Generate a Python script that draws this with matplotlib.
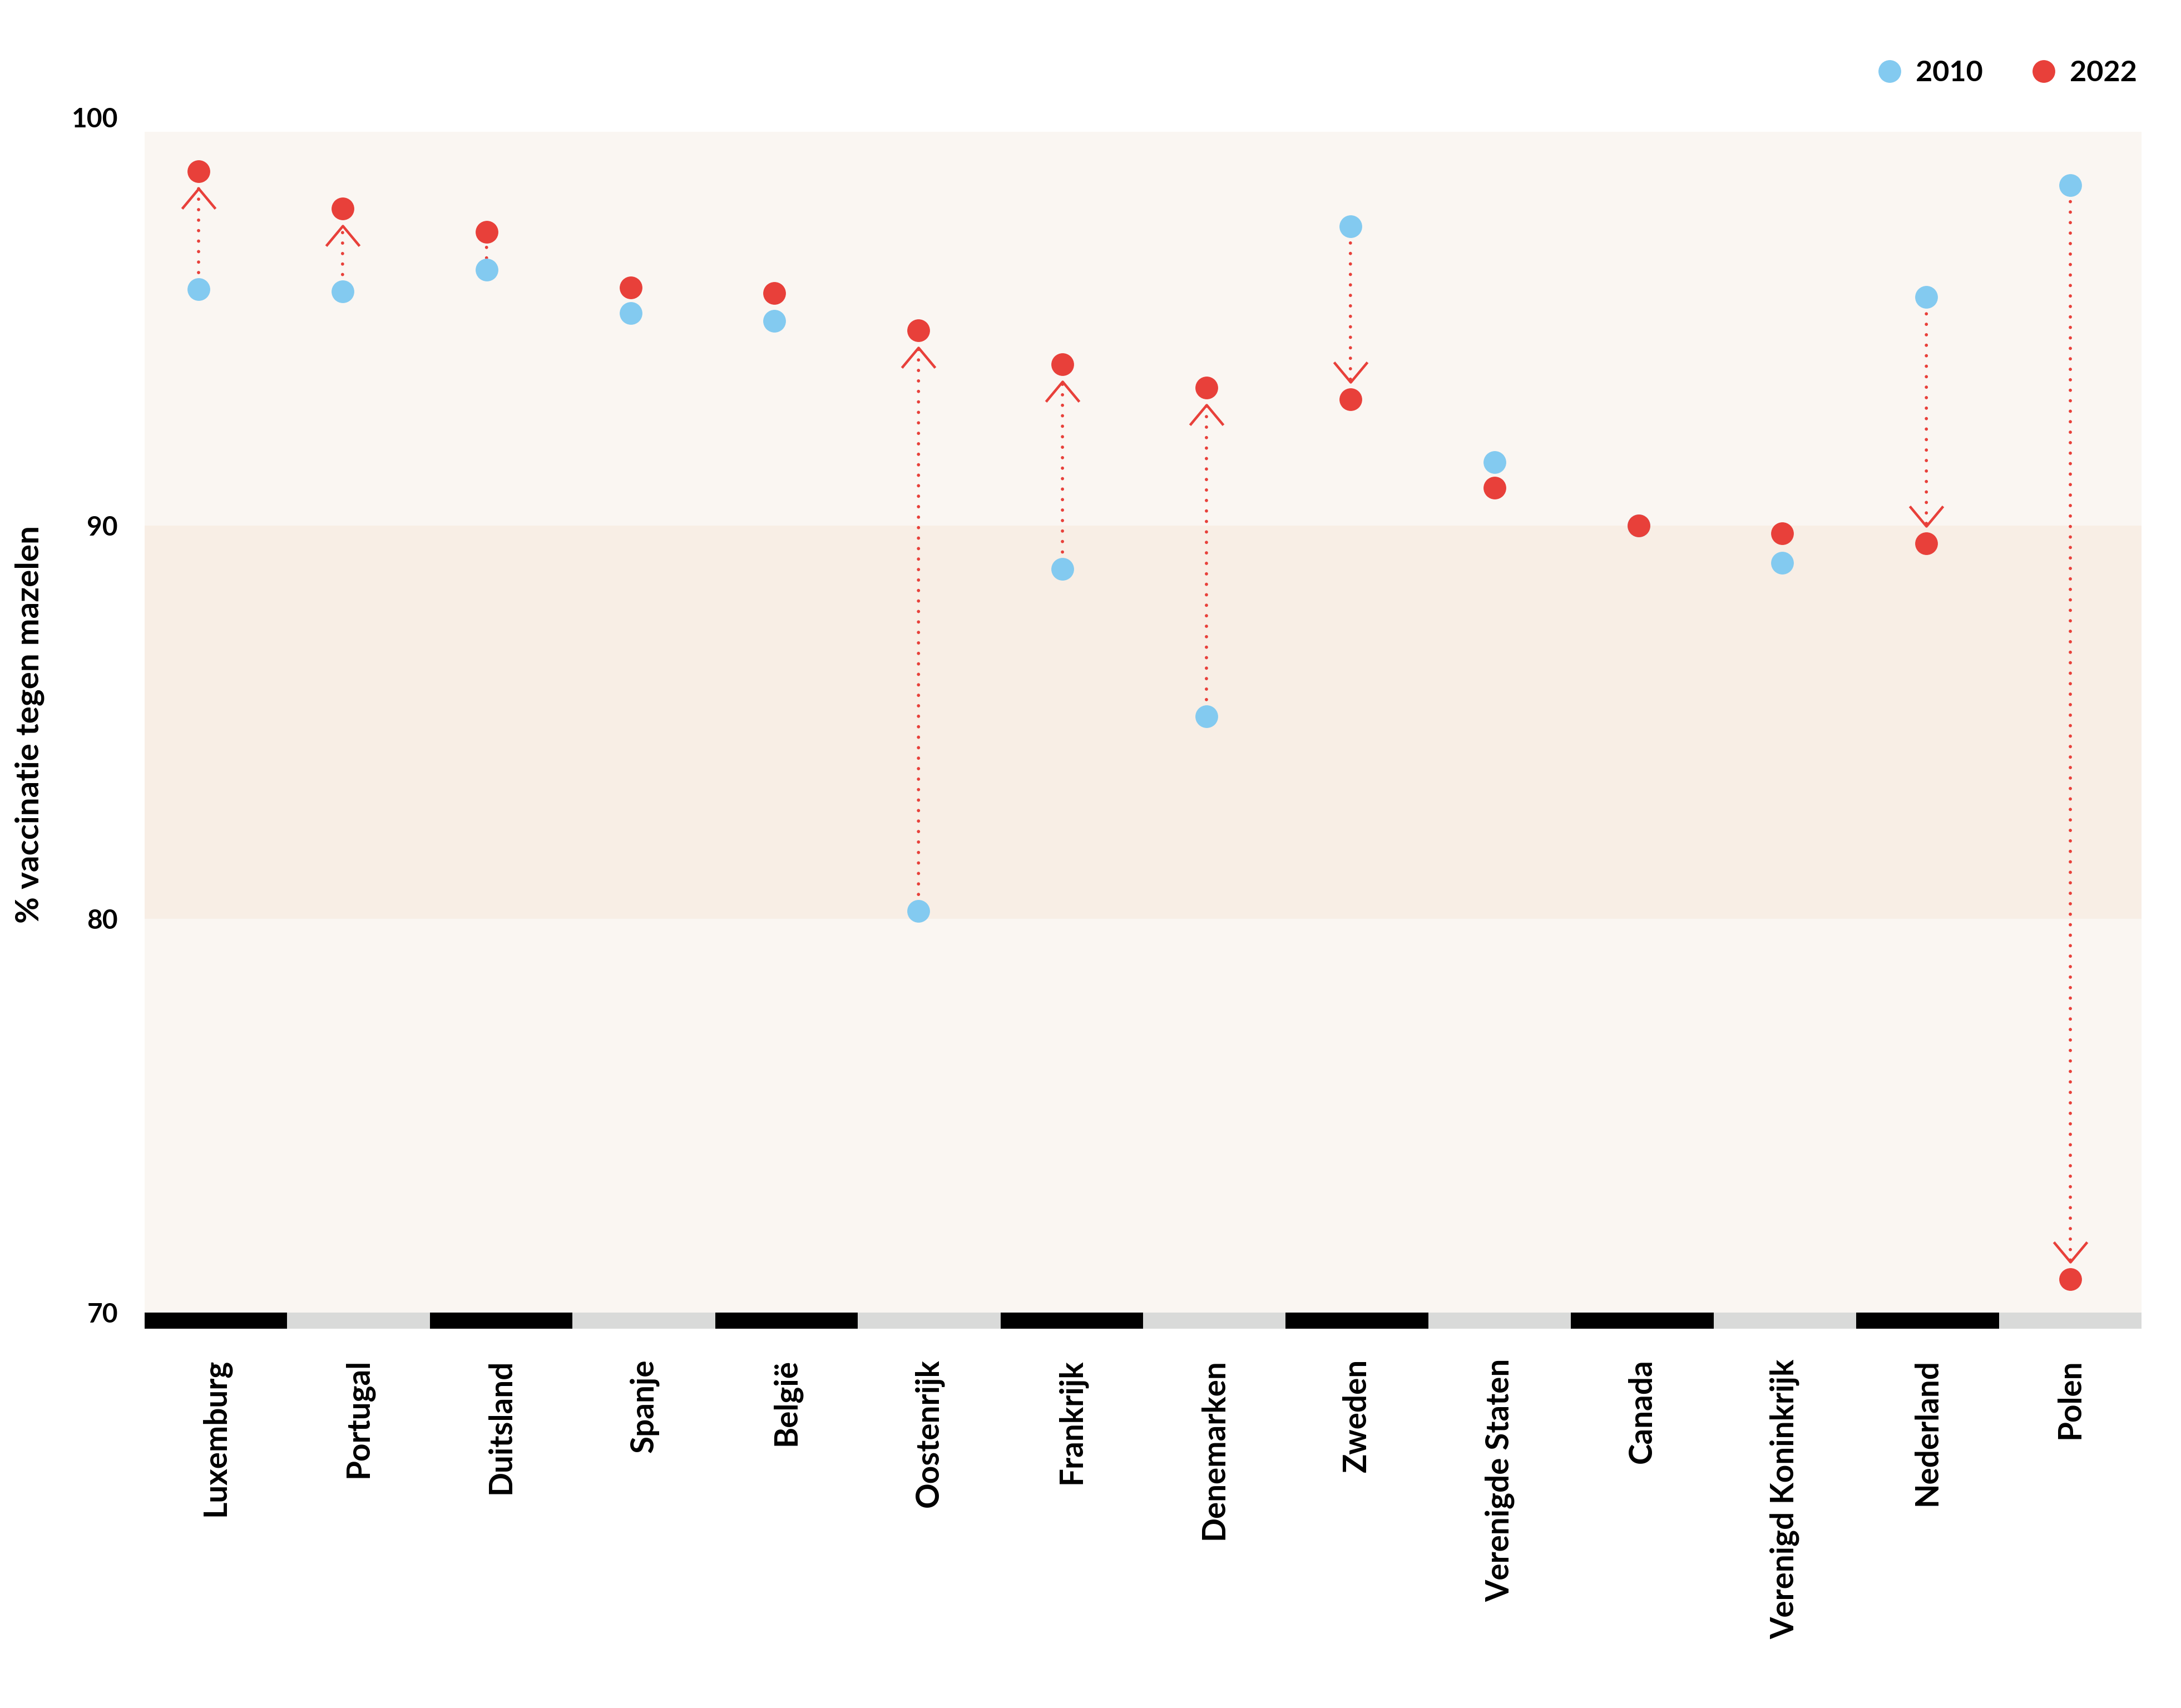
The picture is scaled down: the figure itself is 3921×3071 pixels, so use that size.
import numpy as np
import matplotlib as mpl
mpl.use('Agg')
import matplotlib.pyplot as plt
from matplotlib.lines import Line2D
from matplotlib.path import Path

plt.rcParams['font.family'] = ['Lato', 'DejaVu Sans']
plt.rcParams['font.weight'] = 'bold'

# data
countries = ["Luxemburg", "Portugal", "Duitsland", "Spanje", "België", "Oostenrijk",
             "Frankrijk", "Denemarken", "Zweden", "Verenigde Staten", "Canada",
             "Verenigd Koninkrijk", "Nederland", "Polen"]
v2010 = [96.0, 95.95, 96.5, 95.4, 95.2, 80.2, 88.9, 85.15, 97.6, 91.6, 90.0, 89.05, 95.8, 98.65]
v2022 = [99.0, 98.05, 97.45, 96.05, 95.9, 94.95, 94.1, 93.5, 93.2, 90.95, 90.0, 89.8, 89.55, 70.85]
yticks = [70, 80, 90, 100]
ylabel = "% vaccinatie tegen mazelen"

# style
blue = "#83caf0"
red = "#e8403a"
bg_light = "#faf6f2"
bg_band = "#f8eee5"
strip_colors = ["#000000", "#d9dad9"]

W, H, DPI = 3921, 3071, 300
px = 72 / DPI  # one pixel in points
L, R, T, B = 260, 3850, 237, 2389  # plot box in pixels
rect = [L / W, 1 - B / H, (R - L) / W, (B - T) / H]

fig = plt.figure(figsize=(W / DPI, H / DPI), dpi=DPI)
ax = fig.add_axes(rect)

ymin = 70 - 29 / 70.78
n = len(countries)
x = np.arange(n)
ax.set_xlim(-0.5, n - 0.5)
ax.set_ylim(ymin, 100)

# background bands
ax.axhspan(70, 80, color=bg_light, lw=0, zorder=0)
ax.axhspan(80, 90, color=bg_band, lw=0, zorder=0)
ax.axhspan(90, 100, color=bg_light, lw=0, zorder=0)

# strip at the bottom
ax.bar(x, 70 - ymin, bottom=ymin, width=1.0,
       color=[strip_colors[i % 2] for i in range(n)], lw=0, zorder=1)

# dots sit on a slightly different horizontal scale than the strip
ax2 = fig.add_axes(rect, sharey=ax)
step = 258.85
x0 = -(357 - L) / step
ax2.set_xlim(x0, x0 + (R - L) / step)
ax2.axis('off')


def chevron(up):
    s = 1 if up else -1
    verts = [(-30, -s * 67), (0, -s * 31), (30, -s * 67)]
    return Path(verts, [Path.MOVETO, Path.LINETO, Path.LINETO])


for i, (a, b) in enumerate(zip(v2010, v2022)):
    d = b - a
    if abs(d) < 0.9:
        continue
    big = abs(d) >= 1.5
    ax2.annotate("", xy=(i, b), xytext=(i, a),
                 arrowprops=dict(arrowstyle='-', color=red, lw=1.4,
                                 linestyle=(0, (0.01, 3.22)), capstyle='round',
                                 shrinkA=30 * px if big else 21 * px,
                                 shrinkB=31 * px if big else 21 * px),
                 zorder=2)
    if big:
        ax2.plot(i, b, marker=chevron(d > 0), markersize=2 * 67 * px,
                 color=red, mfc='none', mew=1.1, ls='', zorder=2)

ax2.plot(x, v2010, 'o', color=blue, markersize=9.8, mew=0, zorder=3)
ax2.plot(x, v2022, 'o', color=red, markersize=9.8, mew=0, zorder=4)

# axes
for sp in ax.spines.values():
    sp.set_visible(False)
ax.set_xticks(x, countries, rotation=90, fontsize=13.6, fontweight='bold')
ax.tick_params(axis='x', length=0, pad=13)
ax.set_yticks(yticks, [str(t) for t in yticks], fontsize=11.5, fontweight='bold')
ax.tick_params(axis='y', length=0, pad=11.5)
ax.get_yticklabels()[-1].set_va('bottom')
ax.set_ylabel(ylabel, fontsize=14, fontweight='bold')
ax.yaxis.set_label_coords(-(L - 80) / (R - L), (B - 1302) / (B - T))

# legend
handles = [Line2D([], [], marker='o', ls='', color=blue, markersize=9.8, mew=0, label='2010'),
           Line2D([], [], marker='o', ls='', color=red, markersize=9.8, mew=0, label='2022')]
fig.legend(handles=handles, loc='center right', bbox_to_anchor=(3842 / W, 1 - 132 / H),
           ncol=2, frameon=False, handlelength=0.8, handletextpad=0.5, columnspacing=1.7,
           borderaxespad=0, borderpad=0, prop=dict(family='Lato', weight='bold', size=12.5))

fig.savefig("out.png", dpi=DPI, facecolor='white')
